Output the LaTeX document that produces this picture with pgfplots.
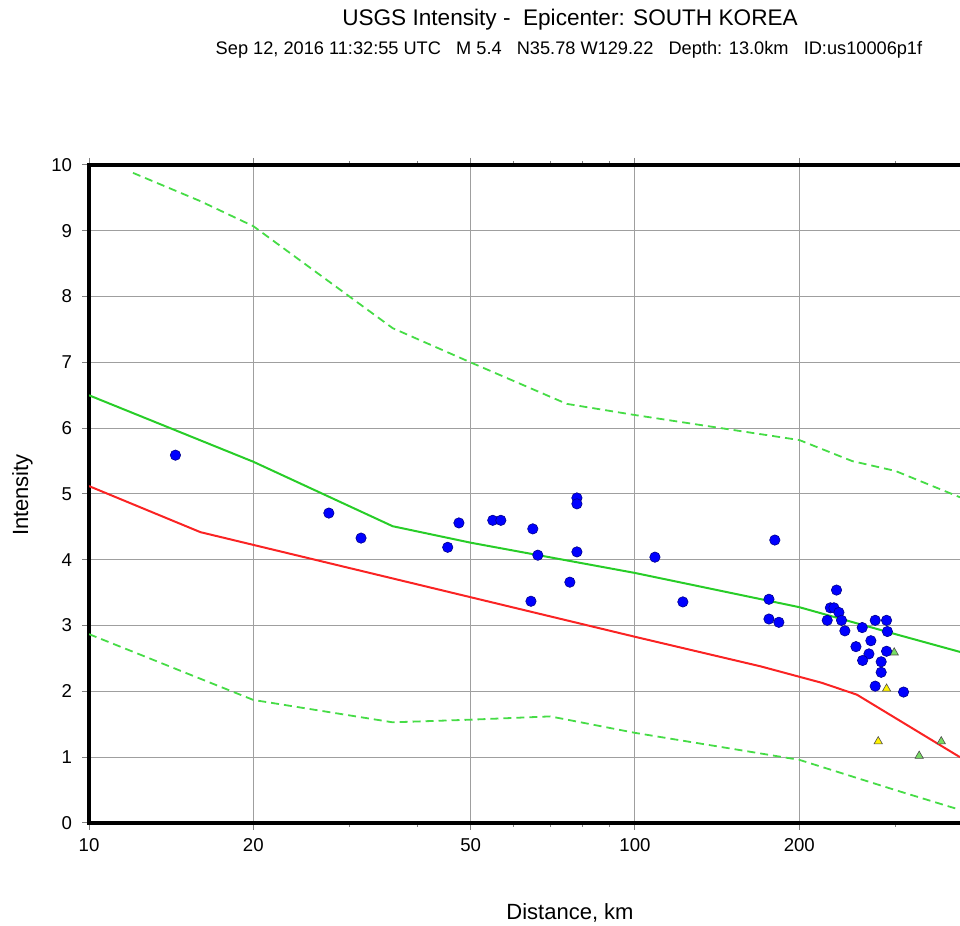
\documentclass[border=0pt]{standalone}
\usepackage{fontspec}
\setmainfont{Liberation Sans}
\usepackage{pgfplots}
\pgfplotsset{compat=1.18}

\definecolor{linegreen}{RGB}{40,205,40}
\definecolor{dashgreen}{RGB}{70,220,70}
\definecolor{linered}{RGB}{250,35,35}
\definecolor{trigreen}{RGB}{120,220,100}

\begin{document}
\begin{tikzpicture}
\useasboundingbox (0,0) rectangle (480pt,463pt);

\node[font=\fontsize{11.3}{13}\selectfont] at (285pt,453pt) {USGS Intensity -~~Epicenter: SOUTH KOREA};
\node[font=\fontsize{9.1}{11}\selectfont] at (284.5pt,438pt)
  {Sep 12, 2016 11:32:55 UTC~~~M 5.4~~~N35.78 W129.22~~~Depth: 13.0km~~~ID:us10006p1f};
\node[font=\fontsize{11}{13}\selectfont] at (285pt,6.5pt) {Distance, km};
\node[font=\fontsize{11}{13}\selectfont, rotate=90] at (11.25pt,215.5pt) {Intensity};

\begin{axis}[
    at={(44.5pt,51.5pt)}, anchor=south west,
    scale only axis,
    width=435.5pt, height=329pt,
    xmode=log,
    xmin=10, xmax=394,
    ymin=0, ymax=10,
    axis x line*=box,
    axis y line*=left,
    axis line style={-, line width=2pt, line cap=rect},
    tick align=outside,
    major tick length=3.5pt,
    minor tick length=2pt,
    tick style={gray, line width=0.5pt},
    xtick={10,20,50,100,200},
    xticklabels={10,20,50,100,200},
    minor xtick={30,40,60,70,80,90,300},
    ytick={0,1,2,3,4,5,6,7,8,9,10},
    grid=major,
    major grid style={gray!75, line width=0.5pt},
    tick label style={font=\fontsize{9.3}{11}\selectfont},
    /pgf/number format/assume math mode=true,
    yticklabel style={xshift=-1.5pt},
    xticklabel style={yshift=-0.5pt},
  ]
  % upper dashed bound
  \addplot[dashgreen, line width=0.9pt, dash pattern=on 4pt off 2.5pt] coordinates {
    (12.04,9.88) (16,9.45) (20,9.07) (36,7.52) (50,7.0) (75,6.37)
    (100,6.2) (200,5.82) (250,5.5) (300,5.35) (394,4.95)
  };
  % lower dashed bound
  \addplot[dashgreen, line width=0.9pt, dash pattern=on 4pt off 2.5pt] coordinates {
    (10,2.87) (20,1.87) (36,1.53) (50,1.57) (70,1.62) (100,1.37)
    (200,0.96) (300,0.5) (394,0.2)
  };
  % median prediction
  \addplot[linegreen, line width=1pt] coordinates {
    (10,6.50) (20,5.49) (36,4.51) (50,4.26) (100,3.80) (200,3.28) (300,2.87) (394,2.60)
  };
  % red curve
  \addplot[linered, line width=1pt] coordinates {
    (10,5.12) (16,4.42) (100,2.83) (170,2.38) (220,2.13) (255,1.95) (394,1.0)
  };
  % triangles
  \addplot[only marks, mark=triangle*, mark size=2.4pt,
    mark options={fill=trigreen, draw=black!70, line width=0.3pt}] coordinates {
    (298.5,2.59) (364,1.24) (331.6,1.02)
  };
  \addplot[only marks, mark=triangle*, mark size=2.4pt,
    mark options={fill=yellow, draw=black!70, line width=0.3pt}] coordinates {
    (289,2.04) (279,1.24)
  };
  % observed intensities
  \addplot[only marks, mark=*, mark size=2.6pt,
    mark options={fill=blue, draw=blue!55!black, line width=0.3pt}] coordinates {
    (14.4,5.59) (27.5,4.71) (31.5,4.33) (45.4,4.19) (47.6,4.56)
    (54.9,4.60) (56.8,4.60) (65.0,4.47) (66.4,4.07) (64.5,3.37)
    (76.0,3.66) (78.3,4.94) (78.3,4.85) (78.3,4.12) (108.8,4.04)
    (122.4,3.36) (180.4,4.30) (176,3.40) (176,3.10) (183.5,3.05)
    (234,3.54) (228,3.27) (231.5,3.27) (236.4,3.20) (225,3.08)
    (239,3.08) (242.4,2.92) (260.8,2.97) (275.5,3.08) (289,3.08)
    (290,2.91) (270.5,2.77) (254,2.68) (268.3,2.57) (261.2,2.47)
    (289,2.61) (282.5,2.45) (282.5,2.29) (275.5,2.08) (310.5,1.99)
  };
\end{axis}
\end{tikzpicture}
\end{document}
